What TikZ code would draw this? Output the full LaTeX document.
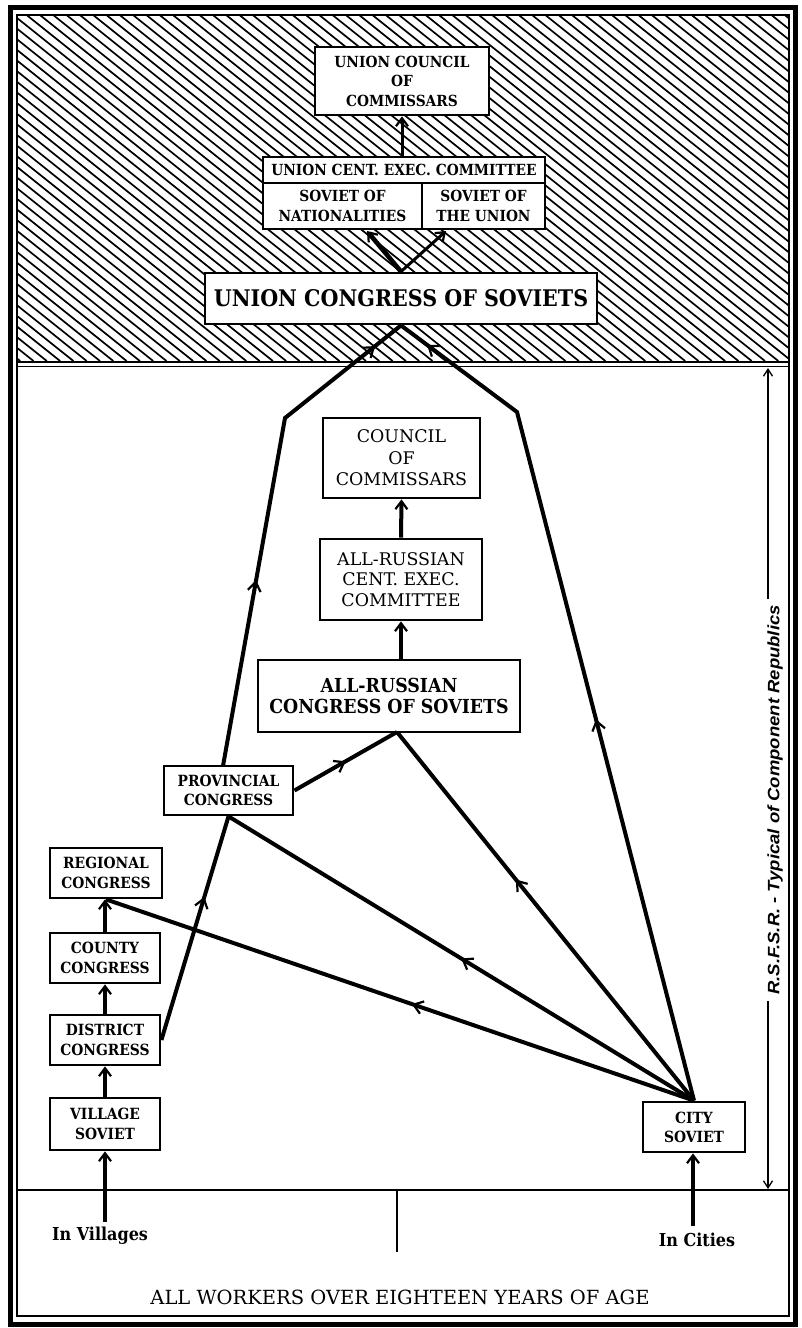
\documentclass[tikz,border=0pt]{standalone}
\usepackage{fontspec}
\setmainfont{DejaVu Serif}
\newfontfamily\bfont{DejaVu Serif}[FakeStretch=0.9]
\newfontfamily\rfont{DejaVu Serif}
\newfontfamily\lblfont{Liberation Sans}[FakeStretch=1.12]
\newcommand{\fsz}[2]{\fontsize{#1}{#2}\selectfont}
\usetikzlibrary{arrows.meta,decorations.markings}
\begin{document}
\begin{tikzpicture}[x=1pt,y=-1pt,
  box/.style={draw, line width=2.8pt, fill=white, align=center, inner sep=0pt},
  sbox/.style={box, font=\bfont\bfseries\fsz{15.4}{20}},
  ubox/.style={box, font=\bfont\bfseries\fsz{15.3}{19.5}},
  rbox/.style={box, font=\rfont\fsz{17.4}{21}},
  con/.style={line width=4pt, line join=miter},
  upar/.style={line width=4pt, -{Straight Barb[length=8pt,width=12pt,line width=2.2pt]}},
  mk/.style={postaction={decorate,decoration={markings,mark=at position #1 with {\arrow{Straight Barb[length=9pt,width=13pt,line width=2.2pt]}}}}},
  thin/.style={line width=1.4pt}
]
\fill[white] (0,0) rectangle (801,1328);
\useasboundingbox (0,0) rectangle (801,1328);
% hatched top region
\begin{scope}
  \clip (17,15) rectangle (789,361);
  \foreach \k in {-33,...,61} \draw[line width=1.7pt] (\k*13.3,15) -- (\k*13.3+432.5,361);
\end{scope}
% frame
\draw[line width=5pt] (10.5,7.5) rectangle (795.5,1324.5);
\draw[line width=1.6pt] (17,15) rectangle (789,1316);
\draw[thin] (17,362) -- (789,362);
\draw[thin] (17,366.5) -- (789,366.5);

% nodes
\node[ubox, minimum width=174pt, minimum height=68pt] (ucc) at (402,81) {UNION COUNCIL\\OF\\COMMISSARS};
\node[ubox, minimum width=282pt, minimum height=26pt] (hdr) at (404,170) {UNION CENT. EXEC. COMMITTEE};
\node[ubox, minimum width=159pt, minimum height=46pt] (son) at (342.5,206) {SOVIET OF\\NATIONALITIES};
\node[ubox, minimum width=123pt, minimum height=46pt] (sou) at (483.5,206) {SOVIET OF\\THE UNION};
\node[box, minimum width=392pt, minimum height=51pt, font=\bfont\bfseries\fsz{22.9}{28}] (ucs) at (401,298.5) {UNION CONGRESS OF SOVIETS};
\node[rbox, minimum width=157pt, minimum height=80pt, font=\rfont\fsz{17.4}{21.5}] (coc) at (401.5,458) {COUNCIL\\OF\\COMMISSARS};
\node[rbox, minimum width=162pt, minimum height=81pt, font=\rfont\fsz{17.4}{20.5}] (arcec) at (401,579.5) {ALL-RUSSIAN\\CENT. EXEC.\\COMMITTEE};
\node[box, minimum width=262pt, minimum height=72pt, font=\bfont\bfseries\fsz{19.3}{21}] (arcs) at (389,696) {ALL-RUSSIAN\\CONGRESS OF SOVIETS};
\node[sbox, minimum width=129pt, minimum height=49pt, font=\bfont\bfseries\fsz{15.4}{18.5}] (prov) at (228.5,790.5) {PROVINCIAL\\CONGRESS};
\node[sbox, minimum width=112pt, minimum height=50pt] (reg) at (106,873) {REGIONAL\\CONGRESS};
\node[sbox, minimum width=110pt, minimum height=50pt] (county) at (105,958) {COUNTY\\CONGRESS};
\node[sbox, minimum width=110pt, minimum height=50pt] (district) at (105,1040) {DISTRICT\\CONGRESS};
\node[sbox, minimum width=110pt, minimum height=52pt] (village) at (105,1124) {VILLAGE\\SOVIET};
\node[sbox, minimum width=102pt, minimum height=50pt, font=\bfont\bfseries\fsz{15.4}{19}] (city) at (694,1127) {CITY\\SOVIET};

% coordinates
\coordinate (sonb) at (367,231);
\coordinate (soub) at (446,231);
\coordinate (cL) at (285,418);
\coordinate (cR) at (517,412);
\coordinate (provt) at (223,766);
\coordinate (arcsb) at (397,732);
\coordinate (vb) at (105,1222);
\coordinate (cb) at (693,1226);
\coordinate (tickT) at (397,1190);
\coordinate (tickB) at (397,1252);
\coordinate (hl) at (17,1190);
\coordinate (hr) at (789,1190);
\coordinate (brT) at (768,368);
\coordinate (brB) at (768,1189);

% union block arrows
\draw[upar, line width=3pt] (hdr.north -| ucc.south) -- (ucc.south);
\draw[upar, line width=4.6pt] (ucs.north) -- (sonb);
\draw[upar, line width=3pt] (ucs.north) -- (soub);

% long paths to union congress
\draw[con, mk=0.376, mk=0.934] (provt) -- (cL) -- (ucs.south);
\draw[con, mk=0.46, mk=0.962] (city.north) -- (cR) -- (ucs.south);

% republic level
\draw[upar] (arcec.north) -- (coc.south);
\draw[upar] (arcec.south |- arcs.north) -- (arcec.south);
\draw[con, mk=0.64] (district.east) -- (prov.south);
\draw[con, mk=0.5] (prov.east) -- (arcsb);
\draw[con, mk=0.6] (city.north) -- (arcsb);
\draw[con, mk=0.5] (city.north) -- (prov.south);
\draw[con, mk=0.48] (city.north) -- (reg.south);

% left column
\draw[upar] (village.north) -- (district.south);
\draw[upar] (district.north) -- (county.south);
\draw[upar] (county.north) -- (county.north |- reg.south);

% base
\draw[line width=2.2pt] (hl) -- (hr);
\draw[line width=2.2pt] (tickT) -- (tickB);
\draw[upar, line width=4.6pt] (vb) -- (village.south);
\draw[upar, line width=4.6pt] (cb) -- (cb |- city.south);

\node[font=\bfont\bfseries\fsz{17.8}{20}] (inv) at (100,1236) {In Villages};
\node[font=\bfont\bfseries\fsz{17.8}{20}] (inc) at (697,1240) {In Cities};
\node[font=\rfont\fsz{19.5}{22}] (all) at (400,1297) {ALL WORKERS OVER EIGHTEEN YEARS OF AGE};

% R.S.F.S.R. bracket
\draw[thin, {Straight Barb[length=7pt,width=9pt,line width=1.3pt]}-{Straight Barb[length=7pt,width=9pt,line width=1.3pt]}] (brT) -- (brB);
\node[rotate=90, fill=white, inner xsep=6pt, inner ysep=1pt, font=\lblfont\bfseries\itshape\fsz{16.5}{18}] (rs) at (775,800) {R.S.F.S.R. - Typical of Component Republics};
\end{tikzpicture}
\end{document}
